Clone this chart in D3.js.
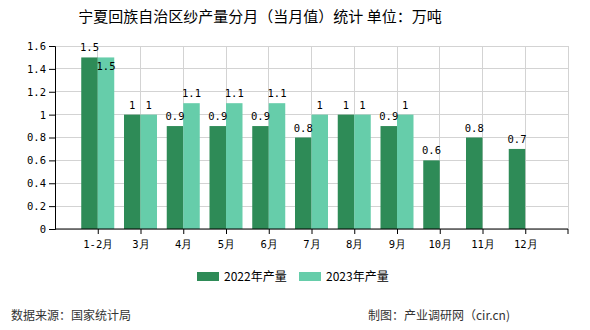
<!DOCTYPE html>
<html><head><meta charset="utf-8">
<script src="https://cdn.jsdelivr.net/npm/d3@7/dist/d3.min.js"></script>
<style>body{margin:0;background:#fff;}svg{display:block;}</style>
</head><body>
<script>
const categories = ["1-2月","3月","4月","5月","6月","7月","8月","9月","10月","11月","12月"];
const series2022 = [1.5,1,0.9,0.9,0.9,0.8,1,0.9,0.6,0.8,0.7];
const series2023 = [1.5,1,1.1,1.1,1.1,1,1,1,null,null,null];
const seriesNames = ["2022年产量","2023年产量"];
const colors = ["#2e8b57","#66cdaa"];
const yTicks = [0,0.2,0.4,0.6,0.8,1,1.2,1.4,1.6];

const W=590,H=330, L=55, R=568, T=46, B=229;
const numFont = "'DejaVu Sans Mono','Liberation Mono',monospace";
const cjk = "'Noto Sans CJK SC',sans-serif";
const svg = d3.select("body").append("svg").attr("width",W).attr("height",H);

const x = d3.scalePoint().domain(categories).range([L,R]).padding(1);
const y = d3.scaleLinear().domain([0,1.6]).range([B,T]);
const bw = 16.5;

// grid
const g = svg.append("g");
g.selectAll("line.h").data(yTicks).join("line")
 .attr("x1",L).attr("x2",R).attr("y1",d=>y(d)).attr("y2",d=>y(d))
 .attr("stroke","#d3d3d3").attr("stroke-width",1).attr("shape-rendering","crispEdges");
g.selectAll("line.v").data(categories.map(c=>x(c)).concat([R])).join("line")
 .attr("x1",d=>d).attr("x2",d=>d).attr("y1",T).attr("y2",B)
 .attr("stroke","#d3d3d3").attr("stroke-width",1).attr("shape-rendering","crispEdges");

// bars
const all = [series2022, series2023];
all.forEach((s,si)=>{
  svg.append("g").selectAll("rect").data(s.map((v,i)=>({v,i})).filter(d=>d.v!=null)).join("rect")
   .attr("x",d=>x(categories[d.i]) - bw + si*bw).attr("width",bw)
   .attr("y",d=>y(d.v)).attr("height",d=>B-y(d.v)).attr("fill",colors[si]);
});

// axes
const ya = svg.append("g").attr("transform",`translate(${L},0)`)
 .call(d3.axisLeft(y).tickValues(yTicks).tickSize(6).tickPadding(3).tickFormat(d=>String(d)));
ya.select(".domain").attr("stroke","#000");
ya.selectAll("text").attr("font-family",numFont).attr("font-size","10.5px").attr("fill","#000");
const xa = svg.append("g").attr("transform",`translate(0,${B})`)
 .call(d3.axisBottom(x).tickSize(5).tickPadding(5).tickSizeOuter(0));
xa.select(".domain").attr("stroke","#000").attr("d",`M${L},0H${R}`);
xa.selectAll("text").attr("font-family",numFont).attr("font-size","10.5px").attr("fill","#000").attr("dy","0.9em");
xa.append("line").attr("x1",R).attr("x2",R).attr("y1",0).attr("y2",5).attr("stroke","#000");

// value labels with simple overlap avoidance
const labG = svg.append("g").attr("font-family",numFont).attr("font-size","10.5px").attr("fill","#000").attr("text-anchor","middle");
categories.forEach((c,i)=>{
  let prev=null;
  all.forEach((s,si)=>{
    const v=s[i]; if(v==null) return;
    const cx = x(c) - bw/2 + si*bw;
    let by = y(v)-6;
    const t = labG.append("text").attr("x",cx).attr("y",by).text(String(v));
    const w = t.node().getComputedTextLength();
    if(prev && Math.abs(prev.by-by)<10 && (prev.cx+prev.w/2) > (cx-w/2)){
      by = y(v)+13; t.attr("y",by);
    }
    prev={cx,by,w};
  });
});

// title
svg.append("text").attr("x",260).attr("y",22).attr("text-anchor","middle")
 .attr("font-family",cjk).attr("font-size","15px").attr("fill","#000").text("宁夏回族自治区纱产量分月（当月值）统计 单位：万吨");

// legend
const lg = svg.append("g").attr("font-family",cjk).attr("font-size","12px").attr("fill","#000");
[197,299].forEach((lx,i)=>{
  lg.append("rect").attr("x",lx).attr("y",272).attr("width",22).attr("height",9).attr("fill",colors[i]);
  lg.append("text").attr("x",lx+27).attr("y",281).text(seriesNames[i]);
});

// footer
svg.append("text").attr("x",11).attr("y",320).attr("font-family",cjk).attr("font-size","12px").attr("fill","#333").text("数据来源：国家统计局");
svg.append("text").attr("x",368).attr("y",320).attr("font-family",cjk).attr("font-size","12px").attr("fill","#333").text("制图：产业调研网（cir.cn)");
</script>
</body></html>
